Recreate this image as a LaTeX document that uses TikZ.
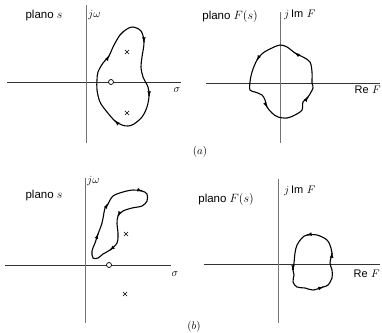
\documentclass[tikz,border=0pt]{standalone}
\usepackage{fontspec}
\newfontfamily\planofont{Liberation Sans}
\usepackage{tikz}
\usetikzlibrary{arrows.meta, shapes.misc}

\begin{document}
\begin{tikzpicture}[
    x=1pt, y=-1pt,
    axis/.style={line width=0.7pt, black!80},
    vaxis/.style={line width=0.7pt, black!55},
    contour/.style={line width=1.1pt},
    tipmark/.style={line width=1.1pt, -{Latex[length=5pt, width=3.8pt]}},
    pole/.style={cross out, draw, line width=0.6pt, minimum size=3.5pt, inner sep=0pt},
    zero/.style={circle, draw, fill=white, line width=0.7pt, minimum size=5pt, inner sep=0pt},
    title/.style={font=\fontsize{11.5}{13}\selectfont\planofont, inner sep=0pt},
    lbl/.style={font=\fontsize{11}{12}\selectfont, inner sep=0pt}
]
    \useasboundingbox (0,0) rectangle (382,332);

    % (a) plano s
    \coordinate (sa-l) at (7,82);   \coordinate (sa-r) at (181,82);
    \coordinate (sa-t) at (86,5);   \coordinate (sa-b) at (86,143);
    \draw[axis] (sa-l) -- (sa-r);
    \draw[vaxis] (sa-t) -- (sa-b);
    \node[title] (sa-title) at (44,16) {plano $s$};
    \node[lbl, anchor=west] (sa-jw) at (88,15) {$j\omega$};
    \node[lbl] (sa-sigma) at (177,90) {$\sigma$};
    \draw[contour] plot[smooth cycle, tension=0.55] coordinates {
        (133,27) (141,31) (144,42) (142,57) (141,67) (143,77) (148,87) (149,96)
        (147,107) (142,117) (134,124) (128,126) (122,125) (115,121) (107,112)
        (100,102) (97,90) (97,80) (98,72) (103,63) (109,56) (113,47) (120,35) (127,29)};
    \foreach \x/\y/\u/\v in {144/42/0.04/1, 149/96/-0.05/1, 115/121/-0.75/-0.65, 109/56/0.53/-0.85}
        \draw[tipmark] (\x,\y) -- ++(0.3*\u,0.3*\v);
    \node[zero] (sa-z) at (111,82) {};
    \node[pole] (sa-p1) at (127,52) {};
    \node[pole] (sa-p2) at (127,113) {};

    % (a) plano F(s)
    \coordinate (fa-l) at (206,83);  \coordinate (fa-r) at (380,83);
    \coordinate (fa-t) at (280,12);  \coordinate (fa-b) at (280,143);
    \draw[axis] (fa-l) -- (fa-r);
    \draw[vaxis] (fa-t) -- (fa-b);
    \node[title] (fa-title) at (230,16) {plano $F(s)$};
    \node[lbl, anchor=west] (fa-im) at (284,15) {$j$\,{\planofont Im} $F$};
    \node[lbl, anchor=east] (fa-re) at (381,90) {{\planofont Re} $F$};
    \draw[contour] plot[smooth cycle, tension=0.55] coordinates {
        (280,45) (272,48) (263,53) (257,60) (252,72) (250,82) (250,90) (255,92)
        (262,95) (265,100) (267,107) (272,113) (278,117) (287,118) (295,115)
        (302,110) (303,102) (308,97) (313,88) (312,83) (312,72) (310,62)
        (303,57) (295,53) (287,47)};
    \foreach \x/\y/\u/\v in {257/60/-0.5/0.87, 267/107/0.47/0.88, 308/97/0.58/-0.81, 295/53/-0.85/-0.53}
        \draw[tipmark] (\x,\y) -- ++(0.3*\u,0.3*\v);
    \node[lbl] (cap-a) at (200,152) {$(a)$};

    % (b) plano s
    \coordinate (sb-l) at (5,265);   \coordinate (sb-r) at (171,265);
    \coordinate (sb-t) at (85,178);  \coordinate (sb-b) at (85,323);
    \draw[axis] (sb-l) -- (sb-r);
    \draw[vaxis] (sb-t) -- (sb-b);
    \node[title] (sb-title) at (44,196) {plano $s$};
    \node[lbl, anchor=west] (sb-jw) at (87,181) {$j\omega$};
    \node[lbl] (sb-sigma) at (175,274) {$\sigma$};
    \draw[contour] plot[smooth cycle, tension=0.55] coordinates {
        (93,258) (92,251) (95,243) (98,234) (102,223) (105,208) (108,204)
        (113,196) (123,192) (133,190) (142,191) (147,194) (147,201) (142,206)
        (132,208) (123,211) (118,216) (117,224) (118,233) (117,243) (110,250)
        (103,254) (98,258)};
    \foreach \x/\y/\u/\v in {98/234/0.33/-0.94, 108/204/0.55/-0.83, 142/191/0.96/0.27, 118/216/-0.42/0.91, 110/250/-0.79/0.62}
        \draw[tipmark] (\x,\y) -- ++(0.3*\u,0.3*\v);
    \node[zero] (sb-z) at (109,265) {};
    \node[pole] (sb-p1) at (126,234) {};
    \node[pole] (sb-p2) at (125,294) {};

    % (b) plano F(s)
    \coordinate (fb-l) at (204,264);  \coordinate (fb-r) at (380,264);
    \coordinate (fb-t) at (278,179);  \coordinate (fb-b) at (278,323);
    \draw[axis] (fb-l) -- (fb-r);
    \draw[vaxis] (fb-t) -- (fb-b);
    \node[title] (fb-title) at (226,199) {plano $F(s)$};
    \node[lbl, anchor=west] (fb-im) at (284,191) {$j$\,{\planofont Im} $F$};
    \node[lbl, anchor=east] (fb-re) at (380,274) {{\planofont Re} $F$};
    \draw[contour] plot[smooth cycle, tension=0.55] coordinates {
        (317,235) (307,235) (302,238) (297,245) (295,253) (294,263) (293,270)
        (294,275) (293,282) (297,287) (305,288) (313,290) (323,287) (328,285)
        (332,278) (332,270) (330,263) (332,253) (331,248) (327,240)};
    \foreach \x/\y/\u/\v in {307/235/-0.98/0.2, 293/270/0/1, 323/287/0.95/-0.32, 332/253/0.07/-1}
        \draw[tipmark] (\x,\y) -- ++(0.3*\u,0.3*\v);
    \node[lbl] (cap-b) at (194,327) {$(b)$};
\end{tikzpicture}
\end{document}
